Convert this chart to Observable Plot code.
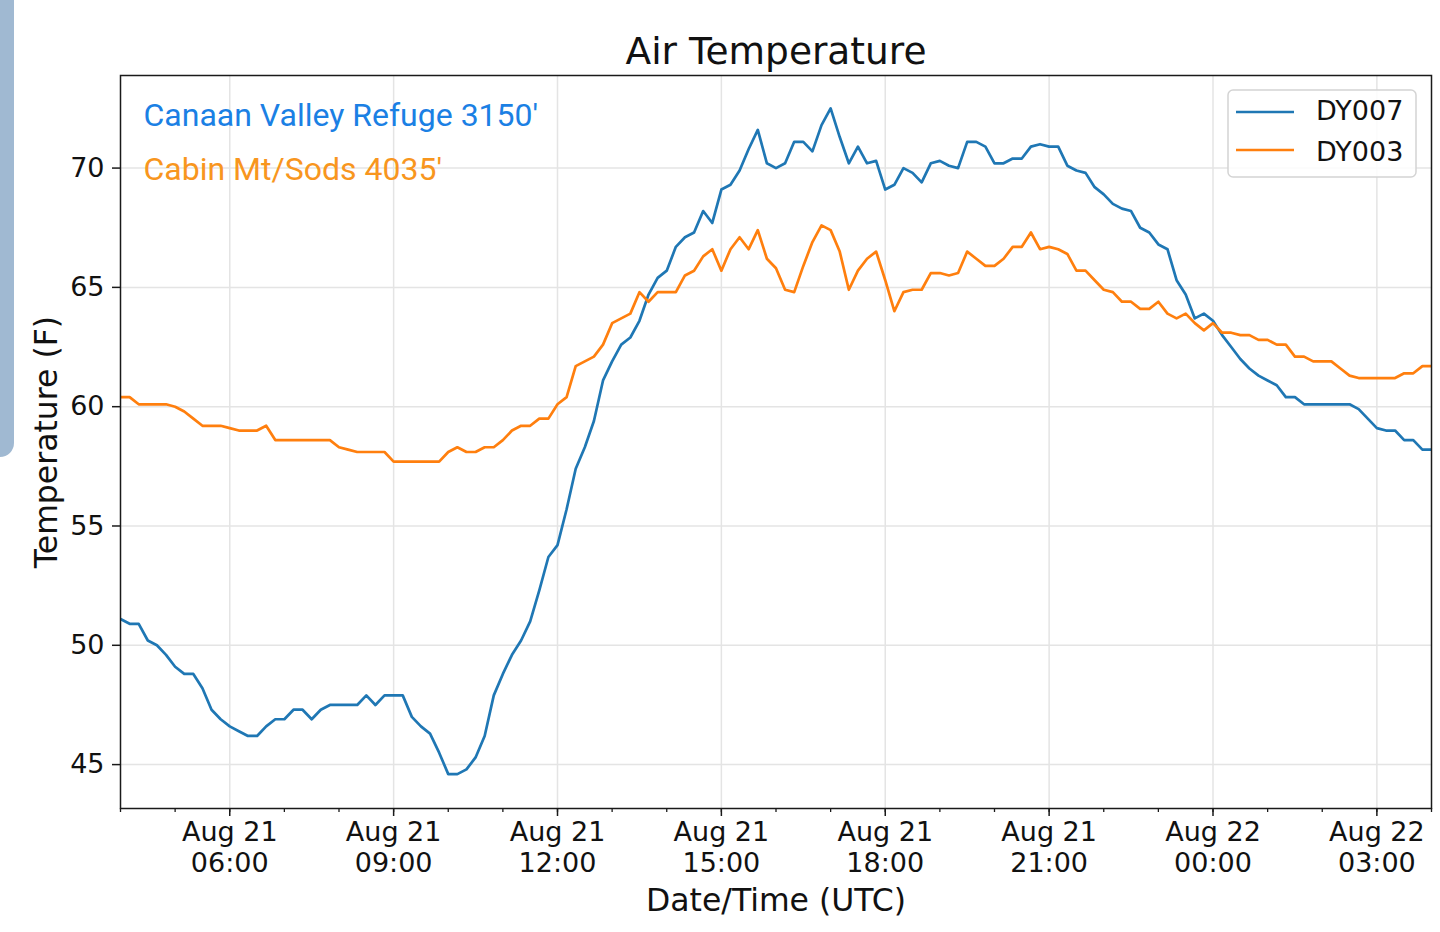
<!DOCTYPE html>
<html>
<head>
<meta charset="utf-8">
<script src="https://cdn.jsdelivr.net/npm/d3@7"></script>
<script src="https://cdn.jsdelivr.net/npm/@observablehq/plot@0.6"></script>
<style>
  html, body { margin: 0; padding: 0; background: #ffffff; }
  #wrap { position: relative; width: 1440px; height: 932px; overflow: hidden; background: #fff; }
  #wrap > svg.plot { position: absolute; left: 0; top: 0; }
  #sidebar { position: absolute; left: 0; top: 0; width: 14px; height: 457px; background: #a0b9d2; border-bottom-right-radius: 14px; }
  #legend { position: absolute; left: 0; top: 0; pointer-events: none; }
</style>
</head>
<body>
<div id="wrap"><div id="sidebar"></div></div>
<script>
// ---- data (10-minute readings, Aug 21 04:00 UTC -> Aug 22 04:00 UTC) ----
const startUTC = Date.UTC(2017, 7, 21, 4, 0);
const stepMinutes = 10;

const seriesNames = ["DY007", "DY003"];
const seriesColors = ["#1f77b4", "#ff7f0e"];

const dy007 = [
  51.1, 50.9, 50.9, 50.2, 50.0, 49.6, 49.1, 48.8, 48.8, 48.2,
  47.3, 46.9, 46.6, 46.4, 46.2, 46.2, 46.6, 46.9, 46.9, 47.3,
  47.3, 46.9, 47.3, 47.5, 47.5, 47.5, 47.5, 47.9, 47.5, 47.9,
  47.9, 47.9, 47.0, 46.6, 46.3, 45.5, 44.6, 44.6, 44.8, 45.3,
  46.2, 47.9, 48.8, 49.6, 50.2, 51.0, 52.3, 53.7, 54.2, 55.7,
  57.4, 58.3, 59.4, 61.1, 61.9, 62.6, 62.9, 63.6, 64.7, 65.4,
  65.7, 66.7, 67.1, 67.3, 68.2, 67.7, 69.1, 69.3, 69.9, 70.8,
  71.6, 70.2, 70.0, 70.2, 71.1, 71.1, 70.7, 71.8, 72.5, 71.3,
  70.2, 70.9, 70.2, 70.3, 69.1, 69.3, 70.0, 69.8, 69.4, 70.2,
  70.3, 70.1, 70.0, 71.1, 71.1, 70.9, 70.2, 70.2, 70.4, 70.4,
  70.9, 71.0, 70.9, 70.9, 70.1, 69.9, 69.8, 69.2, 68.9, 68.5,
  68.3, 68.2, 67.5, 67.3, 66.8, 66.6, 65.3, 64.7, 63.7, 63.9,
  63.6, 63.0, 62.5, 62.0, 61.6, 61.3, 61.1, 60.9, 60.4, 60.4,
  60.1, 60.1, 60.1, 60.1, 60.1, 60.1, 59.9, 59.5, 59.1, 59.0,
  59.0, 58.6, 58.6, 58.2, 58.2
];

const dy003 = [
  60.4, 60.4, 60.1, 60.1, 60.1, 60.1, 60.0, 59.8, 59.5, 59.2,
  59.2, 59.2, 59.1, 59.0, 59.0, 59.0, 59.2, 58.6, 58.6, 58.6,
  58.6, 58.6, 58.6, 58.6, 58.3, 58.2, 58.1, 58.1, 58.1, 58.1,
  57.7, 57.7, 57.7, 57.7, 57.7, 57.7, 58.1, 58.3, 58.1, 58.1,
  58.3, 58.3, 58.6, 59.0, 59.2, 59.2, 59.5, 59.5, 60.1, 60.4,
  61.7, 61.9, 62.1, 62.6, 63.5, 63.7, 63.9, 64.8, 64.4, 64.8,
  64.8, 64.8, 65.5, 65.7, 66.3, 66.6, 65.7, 66.6, 67.1, 66.6,
  67.4, 66.2, 65.8, 64.9, 64.8, 65.9, 66.9, 67.6, 67.4, 66.5,
  64.9, 65.7, 66.2, 66.5, 65.3, 64.0, 64.8, 64.9, 64.9, 65.6,
  65.6, 65.5, 65.6, 66.5, 66.2, 65.9, 65.9, 66.2, 66.7, 66.7,
  67.3, 66.6, 66.7, 66.6, 66.4, 65.7, 65.7, 65.3, 64.9, 64.8,
  64.4, 64.4, 64.1, 64.1, 64.4, 63.9, 63.7, 63.9, 63.5, 63.2,
  63.5, 63.1, 63.1, 63.0, 63.0, 62.8, 62.8, 62.6, 62.6, 62.1,
  62.1, 61.9, 61.9, 61.9, 61.6, 61.3, 61.2, 61.2, 61.2, 61.2,
  61.2, 61.4, 61.4, 61.7, 61.7
];

const yTicks = [45, 50, 55, 60, 65, 70];
const yDomain = [43.16, 73.88];

const titleText = "Air Temperature";
const xLabelText = "Date/Time (UTC)";
const yLabelText = "Temperature (F)";
const annotationTexts = ["Canaan Valley Refuge 3150'", "Cabin Mt/Sods 4035'"];
const annotationColors = ["#1b80e4", "#f8961e"];

// ---- build tables ----
const timeAt = i => new Date(startUTC + i * stepMinutes * 60000);
const rows = [];
[dy007, dy003].forEach((arr, s) => arr.forEach((v, i) => rows.push({time: timeAt(i), value: v, series: seriesNames[s]})));

const xStart = timeAt(0);
const xEnd = timeAt(dy007.length - 1);
const majorTicks = d3.utcHour.every(3).range(xStart, xEnd);
const minorTicks = d3.utcHour.range(xStart, new Date(+xEnd + 1));
const fmtDay = d3.utcFormat("%b %d");
const fmtTime = d3.utcFormat("%H:%M");

const gridStyle = {stroke: "#e4e4e4", strokeOpacity: 1, strokeWidth: 1.5};

const chart = Plot.plot({
  width: 1440,
  height: 932,
  marginTop: 75,
  marginBottom: 124,
  marginLeft: 120,
  marginRight: 9,
  style: {fontFamily: "DejaVu Sans", fontSize: "27px", color: "#111", background: "transparent"},
  x: {type: "utc", domain: [xStart, xEnd], label: null},
  y: {domain: yDomain, label: null},
  color: {domain: seriesNames, range: seriesColors},
  marks: [
    Plot.gridX(majorTicks, gridStyle),
    Plot.gridY(yTicks, gridStyle),
    Plot.line(rows, {x: "time", y: "value", z: "series", stroke: "series", strokeWidth: 2.7, strokeLinejoin: "round", strokeLinecap: "butt"}),
    Plot.frame({stroke: "#1a1a1a", strokeWidth: 1.5}),
    Plot.axisY(yTicks, {tickSize: 8, tickPadding: 8, fontSize: 27, strokeWidth: 1.5, stroke: "#1a1a1a", fill: "#111", label: null}),
    Plot.axisX(minorTicks, {tickSize: 4, tickFormat: () => "", strokeWidth: 1.3, stroke: "#1a1a1a", label: null}),
    Plot.axisX(majorTicks, {
      tickSize: 8, tickPadding: 2, fontSize: 27, lineHeight: 1.15, strokeWidth: 1.5, stroke: "#1a1a1a", fill: "#111", label: null,
      tickFormat: d => `${fmtDay(d)}\n${fmtTime(d)}`
    }),
    Plot.text([titleText], {frameAnchor: "top", dy: -12, lineAnchor: "bottom", fontSize: 37.5, fill: "#111"}),
    Plot.text([xLabelText], {frameAnchor: "bottom", dy: 80, lineAnchor: "top", fontSize: 31.5, fill: "#111"}),
    Plot.text([yLabelText], {frameAnchor: "left", dx: -64, rotate: -90, lineAnchor: "bottom", textAnchor: "middle", fontSize: 31.5, fill: "#111"}),
    Plot.text([annotationTexts[0]], {frameAnchor: "top-left", dx: 23, dy: 50, lineAnchor: "bottom", textAnchor: "start", fontSize: 32, fontFamily: "Roboto", fill: annotationColors[0]}),
    Plot.text([annotationTexts[1]], {frameAnchor: "top-left", dx: 23, dy: 104, lineAnchor: "bottom", textAnchor: "start", fontSize: 32, fontFamily: "Roboto", fill: annotationColors[1]})
  ]
});
chart.classList.add("plot");
document.getElementById("wrap").appendChild(chart);

// ---- legend (upper right, matplotlib-style box) ----
const ns = "http://www.w3.org/2000/svg";
const leg = document.createElementNS(ns, "svg");
leg.setAttribute("id", "legend");
leg.setAttribute("width", 1440);
leg.setAttribute("height", 932);
const box = document.createElementNS(ns, "rect");
Object.entries({x: 1228, y: 90, width: 188, height: 87, rx: 5, fill: "#ffffff", "fill-opacity": 0.85, stroke: "#d4d4d4", "stroke-width": 1.5}).forEach(([k, v]) => box.setAttribute(k, v));
leg.appendChild(box);
seriesNames.forEach((name, i) => {
  const yLine = 112 + i * 38;
  const ln = document.createElementNS(ns, "line");
  Object.entries({x1: 1236, x2: 1294, y1: yLine, y2: yLine, stroke: seriesColors[i], "stroke-width": 2.7}).forEach(([k, v]) => ln.setAttribute(k, v));
  leg.appendChild(ln);
  const tx = document.createElementNS(ns, "text");
  Object.entries({x: 1316, y: 120 + i * 41, fill: "#111", "font-family": "DejaVu Sans", "font-size": 27}).forEach(([k, v]) => tx.setAttribute(k, v));
  tx.textContent = name;
  leg.appendChild(tx);
});
document.getElementById("wrap").appendChild(leg);
</script>
</body>
</html>
